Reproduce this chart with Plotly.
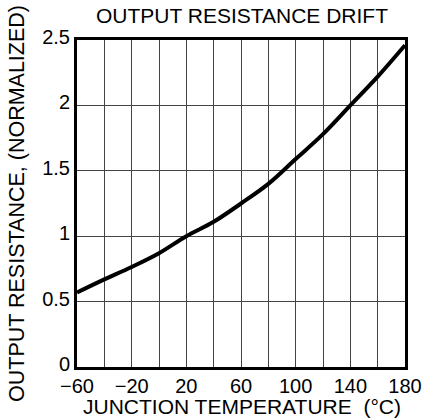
import plotly.graph_objects as go

temps = [-60, -40, -20, 0, 20, 40, 60, 80, 100, 120, 140, 160, 180]
resistance = [0.57, 0.67, 0.765, 0.87, 1.0, 1.11, 1.25, 1.40, 1.59, 1.78, 2.0, 2.22, 2.46]

x_tickvals = list(range(-60, 181, 20))
x_ticktext = ["\u221260", "", "\u221220", "", "20", "", "60", "", "100", "", "140", "", "180"]
y_tickvals = [0, 0.5, 1, 1.5, 2, 2.5]
y_ticktext = ["0", "0.5", "1", "1.5", "2", "2.5"]

fig = go.Figure()
fig.add_trace(go.Scatter(x=temps, y=resistance, mode="lines",
                         line=dict(color="black", width=4, shape="spline", smoothing=1.0),
                         hoverinfo="skip"))

font = "Liberation Sans, Arial, Helvetica, sans-serif"
fig.update_layout(
    width=427, height=419,
    margin=dict(l=77, r=22, t=40, b=52, autoexpand=False),
    paper_bgcolor="white", plot_bgcolor="white",
    showlegend=False,
    font=dict(family=font, size=20, color="black"),
    title=dict(text="OUTPUT RESISTANCE DRIFT", x=242 / 427, xanchor="center",
               y=1 - 16 / 419, yanchor="middle", font=dict(size=21, color="black")),
    xaxis=dict(range=[-60, 180], tickvals=x_tickvals, ticktext=x_ticktext,
               showgrid=True, gridcolor="#444", gridwidth=1,
               showline=True, linecolor="black", linewidth=3, mirror=True,
               ticks="", ticklen=0, zeroline=False, automargin=False,
               ticklabelstandoff=-1,
               tickfont=dict(size=20)),
    yaxis=dict(range=[0, 2.5], tickvals=y_tickvals, ticktext=y_ticktext,
               showgrid=True, gridcolor="#444", gridwidth=1,
               showline=True, linecolor="black", linewidth=3, mirror=True,
               ticks="", zeroline=False, automargin=False,
               ticklabelshift=-3,
               tickfont=dict(size=20),
               title=dict(text="OUTPUT RESISTANCE, (NORMALIZED)", standoff=12,
                          font=dict(size=21.5))),
    annotations=[dict(text="JUNCTION TEMPERATURE\u00a0\u00a0(\u00b0C)",
                      xref="paper", yref="paper", x=0.503, y=-39 / 327,
                      xanchor="center", yanchor="middle", showarrow=False,
                      font=dict(size=21))],
)

fig.write_html(
    "out.html",
    config={"displayModeBar": False},
    post_script="document.documentElement.style.margin='0';"
                "document.body.style.margin='0';"
                "document.body.style.overflow='hidden';",
)
